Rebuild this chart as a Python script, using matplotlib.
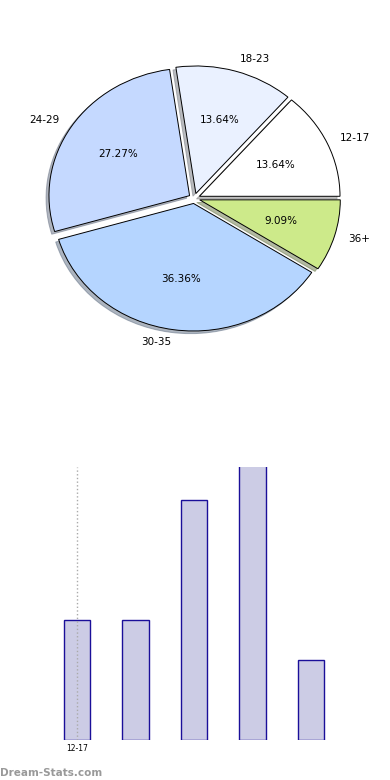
import matplotlib
matplotlib.use("Agg")
import matplotlib.pyplot as plt

age_groups = ["12-17", "18-23", "24-29", "30-35", "36+"]
counts = [3, 3, 6, 8, 2]
pie_colors = ["#FFFFFF", "#EAF1FF", "#C5D9FF", "#B5D5FF", "#CDEA8A"]
explode = [0.04, 0.04, 0.04, 0.04, 0.04]
bar_tick_labels = ["12-17"]

fig = plt.figure(figsize=(3.9, 7.8), dpi=100)

# pie (slightly squashed, like the original)
ax1 = fig.add_axes([0, 400 / 780, 1, 360 / 780])
ax1.pie(counts, labels=age_groups, colors=pie_colors, explode=explode,
        autopct="%1.2f%%", startangle=0,
        shadow={"ox": -0.015, "oy": -0.015, "shade": 0.5},
        wedgeprops={"edgecolor": "black", "linewidth": 0.7},
        textprops={"fontsize": 7.5})
ax1.set_aspect("auto")
ax1.set_xlim(-1.382, 1.392)
ax1.set_ylim(-1.424, 1.399)
ax1.axis("off")

# bars
ax2 = fig.add_axes([0, 40 / 780, 1, 273 / 780])
x = list(range(len(counts)))
ax2.bar(x, counts, width=0.45, color="#CCCCE5", edgecolor="#1A0F99", linewidth=1)
ax2.set_xlim(-77 / 58.5, (390 - 77) / 58.5)
ax2.set_ylim(0, 6.83)
ax2.set_xticks([0])
ax2.set_xticklabels(bar_tick_labels, fontsize=5.5)
ax2.tick_params(axis="x", length=0, pad=3)
ax2.set_yticks([])
ax2.grid(axis="x", linestyle=":", color="#AAAAAA", linewidth=1)
for s in ax2.spines.values():
    s.set_visible(False)

fig.text(0.0, 0.003, "Dream-Stats.com", fontsize=7.5, color="#999999",
         fontweight="bold", ha="left", va="bottom")

fig.savefig("out.png", dpi=100)
